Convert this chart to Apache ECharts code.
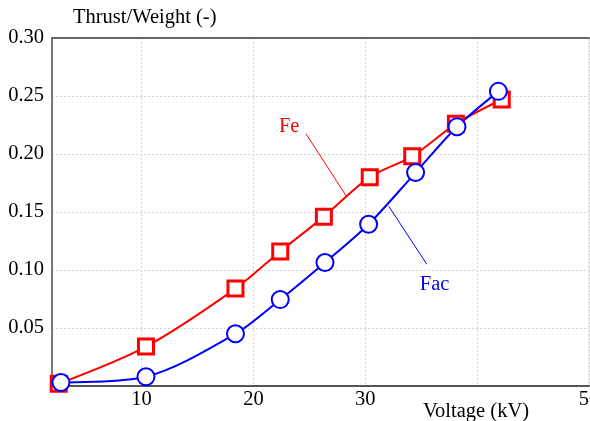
<!DOCTYPE html>
<html>
<head>
<meta charset="utf-8">
<script src="https://cdn.jsdelivr.net/npm/echarts@6/dist/echarts.min.js"></script>
<style>
  html, body { margin: 0; padding: 0; background: #fff; }
  #chart { width: 590px; height: 421px; }
</style>
</head>
<body>
<div id="chart"></div>
<script>
// 读图估计的数据
const feVoltage = [2.6, 10.4, 18.4, 22.4, 26.3, 30.4, 34.2, 38.1, 42.2]
const feRatio = [0.002, 0.034, 0.084, 0.116, 0.146, 0.180, 0.198, 0.226, 0.247]
const facVoltage = [2.8, 10.4, 18.4, 22.4, 26.4, 30.3, 34.5, 38.2, 41.9]
const facRatio = [0.003, 0.008, 0.045, 0.0745, 0.1065, 0.1395, 0.184, 0.2235, 0.254]
const xHiddenLabels = [40]

const font = 'Liberation Serif'
const fs = 20.5
const chart = echarts.init(document.getElementById('chart'))

const pairs = (xs, ys) => xs.map((x, i) => [x, ys[i]])

// 注释文字（Fe / Fac）
const note = (text, color, coord) => ({
  silent: true,
  symbol: 'circle',
  symbolSize: 1,
  itemStyle: { color: 'rgba(0,0,0,0)', borderWidth: 0 },
  label: { show: true, position: 'inside', formatter: text, fontFamily: font, fontSize: fs, color: color },
  data: [{ coord: coord }]
})

const gridLine = { lineStyle: { color: '#d4d4d4', type: [2, 2], width: 1 } }

const option = {
  animation: false,
  grid: { left: 52, top: 38, right: 1, bottom: 35, outerBoundsMode: 'none', containLabel: false, show: true, borderColor: '#ddd', borderWidth: 1 },
  xAxis: [
    {
      type: 'value',
      min: 2,
      max: 50,
      splitNumber: 5,
      name: 'Voltage (kV)',
      nameLocation: 'end',
      nameGap: -113,
      nameTextStyle: { fontFamily: font, fontSize: fs, color: '#000', align: 'center', verticalAlign: 'top', padding: [15, 0, 0, 0] },
      axisLine: { lineStyle: { color: '#555', width: 2 } },
      axisTick: { show: false },
      axisLabel: {
        fontFamily: font, fontSize: fs, color: '#000', margin: 3, showMinLabel: false,
        formatter: v => xHiddenLabels.includes(v) ? '' : String(v)
      },
      splitLine: gridLine
    },
    {
      // 顶部边框
      type: 'value',
      position: 'top',
      min: 2,
      max: 50,
      axisLine: { show: true, lineStyle: { color: '#666', width: 2 } },
      axisTick: { show: false },
      axisLabel: { show: false },
      splitLine: { show: false }
    }
  ],
  yAxis: {
    type: 'value',
    min: 0,
    max: 0.30,
    interval: 0.05,
    name: 'Thrust/Weight (-)',
    nameLocation: 'end',
    nameGap: 10,
    nameTextStyle: { fontFamily: font, fontSize: fs, color: '#000', align: 'left', padding: [0, 0, 0, 21] },
    axisLine: { show: true, lineStyle: { color: '#555', width: 1.5 } },
    axisTick: { show: false },
    axisLabel: {
      fontFamily: font, fontSize: fs, color: '#000', margin: 8, showMinLabel: false,
      formatter: v => v.toFixed(2)
    },
    splitLine: gridLine
  },
  series: [
    {
      name: 'Fe',
      type: 'line',
      data: pairs(feVoltage, feRatio),
      smooth: 0.3,
      symbol: 'rect',
      symbolSize: 15,
      lineStyle: { color: '#ff0000', width: 2 },
      itemStyle: { color: '#fff', borderColor: '#ff0000', borderWidth: 3 },
      markLine: {
        silent: true, symbol: 'none',
        lineStyle: { color: '#ff0000', width: 1, type: 'solid' },
        label: { show: false },
        data: [[{ coord: [24.7, 0.2175] }, { coord: [28.3, 0.1638] }]]
      },
      markPoint: note('Fe', '#ff0000', [23.2, 0.2236])
    },
    {
      name: 'Fac',
      type: 'line',
      data: pairs(facVoltage, facRatio),
      smooth: 0.3,
      symbol: 'circle',
      symbolSize: 17,
      lineStyle: { color: '#0000ff', width: 2 },
      itemStyle: { color: '#fff', borderColor: '#0000ff', borderWidth: 2 },
      markLine: {
        silent: true, symbol: 'none',
        lineStyle: { color: '#0000ff', width: 1, type: 'solid' },
        label: { show: false },
        data: [[{ coord: [32.1, 0.155] }, { coord: [35.5, 0.105] }]]
      },
      markPoint: note('Fac', '#0000ff', [36.2, 0.087])
    }
  ]
}
chart.setOption(option)
</script>
</body>
</html>
